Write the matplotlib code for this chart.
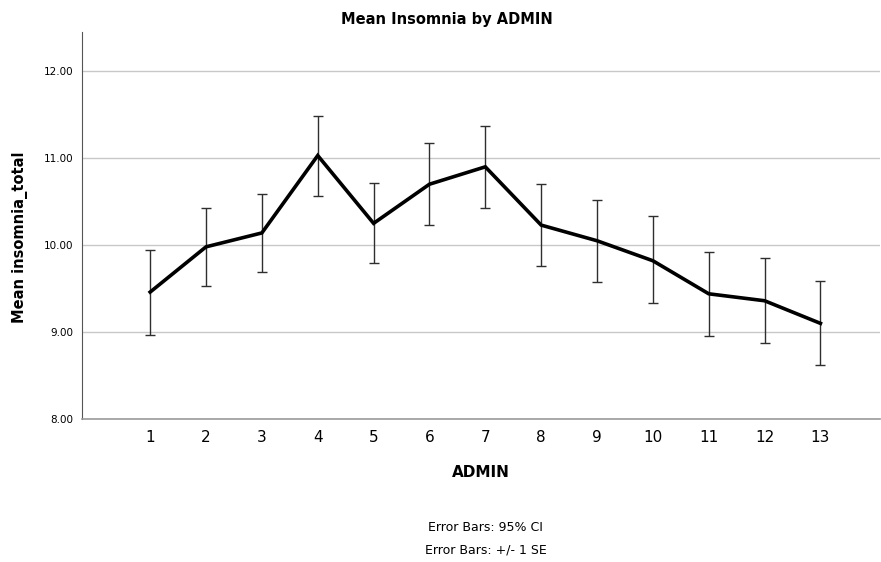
import matplotlib
matplotlib.use("Agg")
import matplotlib.pyplot as plt
import numpy as np

# mean insomnia_total per ADMIN with 95% CI bounds
admin = [1, 2, 3, 4, 5, 6, 7, 8, 9, 10, 11, 12, 13]
means = [9.46, 9.98, 10.14, 11.03, 10.25, 10.70, 10.90, 10.23, 10.05, 9.82, 9.44, 9.36, 9.10]
ci_hi = [9.94, 10.43, 10.59, 11.49, 10.71, 11.17, 11.37, 10.70, 10.52, 10.33, 9.92, 9.85, 9.59]
ci_lo = [8.97, 9.53, 9.69, 10.57, 9.79, 10.23, 10.43, 9.76, 9.58, 9.33, 8.96, 8.87, 8.62]
yticks = [8, 9, 10, 11, 12]

means = np.array(means)
err = [means - np.array(ci_lo), np.array(ci_hi) - means]

fig = plt.figure(figsize=(8.81, 5.62), dpi=100)
ax = fig.add_axes([0.0931, 0.2544, 0.906, 0.6886])

ax.errorbar(admin, means, yerr=err, fmt='none', ecolor='#2e2e2e',
            elinewidth=1.0, capsize=3.5, capthick=1.0, zorder=3)
ax.plot(admin, means, color='black', lw=2.6, zorder=4, solid_joinstyle='miter')

ax.set_xlim(-0.22, 14.07)
ax.set_ylim(8, 12.45)
ax.set_xticks(admin)
ax.set_xticklabels([str(a) for a in admin], fontsize=11)
ax.set_yticks(yticks)
ax.set_yticklabels(['%.2f' % v for v in yticks], fontsize=7.5)
ax.tick_params(axis='both', length=0)
ax.tick_params(axis='x', pad=8)
ax.tick_params(axis='y', pad=6)
ax.grid(axis='y', color='#c8c8c8', lw=1.0)
ax.set_axisbelow(True)
for s in ['top', 'right']:
    ax.spines[s].set_visible(False)
ax.spines['left'].set_color('#555555')
ax.spines['bottom'].set_color('#9a9a9a')
ax.spines['bottom'].set_linewidth(1.2)

ax.set_xlabel('ADMIN', fontsize=11, fontweight='bold', labelpad=14)
fig.text(0.023, 0.578, 'Mean insomnia_total', rotation=90, ha='center', va='center',
         fontsize=10.5, fontweight='bold')

fig.text(0.507, 0.965, 'Mean Insomnia by ADMIN', ha='center', va='center',
         fontsize=10.5, fontweight='bold')
fig.text(0.551, 0.062, 'Error Bars: 95% CI', ha='center', va='center', fontsize=9)
fig.text(0.551, 0.021, 'Error Bars: +/- 1 SE', ha='center', va='center', fontsize=9)

fig.savefig('out.png', dpi=100)
